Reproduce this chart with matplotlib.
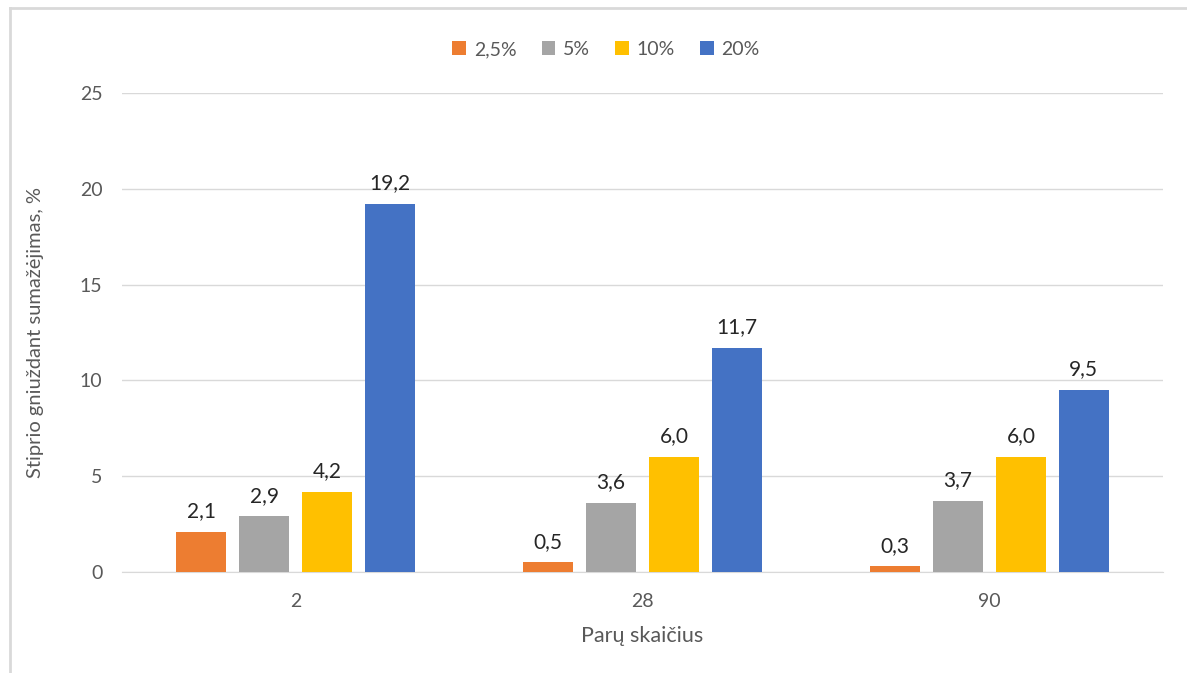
import numpy as np
import matplotlib.pyplot as plt
from matplotlib.lines import Line2D

plt.rcParams['font.family'] = ['Lato', 'DejaVu Sans']

kategorijos = ['2', '28', '90']
serijos = ['2,5%', '5%', '10%', '20%']
spalvos = ['#ED7D31', '#A5A5A5', '#FFC000', '#4472C4']
reiksmes = [
    [2.1, 0.5, 0.3],
    [2.9, 3.6, 3.7],
    [4.2, 6.0, 6.0],
    [19.2, 11.7, 9.5],
]

fig = plt.figure(figsize=(11.87, 6.73), dpi=100)
ax = fig.add_axes([122 / 1187, 1 - 572 / 673, 1041 / 1187, 479 / 673])

x = np.arange(len(kategorijos))
plotis = 0.144
zingsnis = 0.181
for i, (pav, sp, val) in enumerate(zip(serijos, spalvos, reiksmes)):
    poz = x + (i - 1.5) * zingsnis
    bars = ax.bar(poz, val, width=plotis, color=sp, label=pav, zorder=3)
    for b, v in zip(bars, val):
        ax.text(b.get_x() + b.get_width() / 2, v + 0.55, f'{v:.1f}'.replace('.', ','),
                ha='center', va='bottom', fontsize=15, color='#262626')

ax.set_xlim(-0.5, 2.5)
ax.set_ylim(0, 25)
ax.set_yticks(range(0, 26, 5))
ax.set_xticks(x)
ax.set_xticklabels(kategorijos)
ax.grid(axis='y', color='#D9D9D9', lw=1, zorder=0)
for s in ['top', 'right', 'left']:
    ax.spines[s].set_visible(False)
ax.spines['bottom'].set_color('#D9D9D9')
ax.tick_params(length=0, labelsize=14, colors='#595959')
ax.tick_params(axis='x', pad=15)
ax.tick_params(axis='y', pad=14)

ax.set_xlabel('Parų skaičius', fontsize=15.5, color='#595959', labelpad=12)
ax.set_ylabel('Stiprio gniuždant sumažėjimas, %', fontsize=14.5, color='#595959', labelpad=26)

ax.legend(loc='upper center', bbox_to_anchor=(0.465, 1.145), ncol=4, frameon=False,
          fontsize=14, labelcolor='#595959', handlelength=0.7, handleheight=0.7,
          handletextpad=0.4, columnspacing=1.3)

# ploni rėmelio kraštai
fig.add_artist(Line2D([10 / 1187, 10 / 1187], [0, 1 - 8 / 673], color='#D9D9D9', lw=2))
fig.add_artist(Line2D([10 / 1187, 1], [1 - 8 / 673, 1 - 8 / 673], color='#D9D9D9', lw=2))

fig.savefig('out.png', dpi=100)
